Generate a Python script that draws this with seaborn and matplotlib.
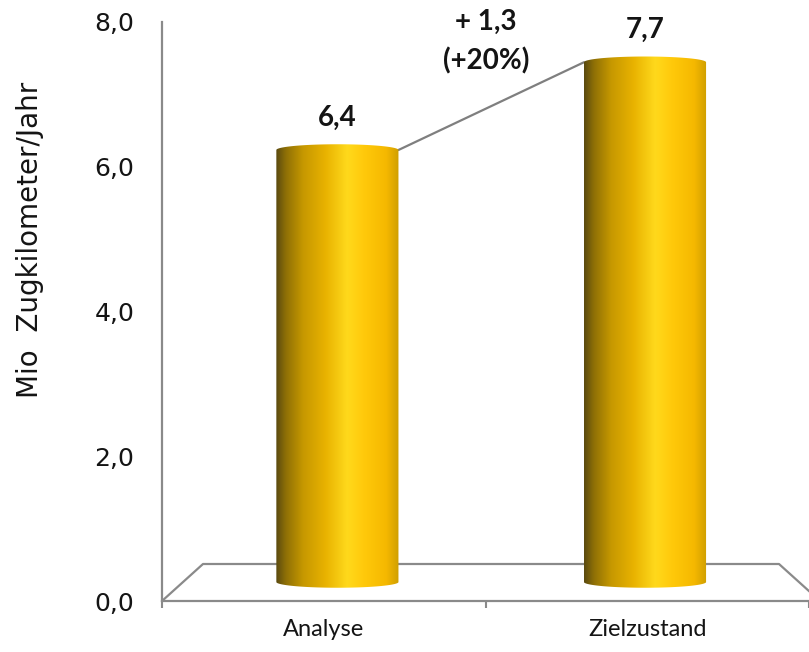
import numpy as np
import pandas as pd
import matplotlib
matplotlib.use("Agg")
import matplotlib.pyplot as plt
import seaborn as sns
from matplotlib.colors import LinearSegmentedColormap
from matplotlib.path import Path
from matplotlib.patches import PathPatch
from matplotlib.lines import Line2D

# data
categories = ["Analyse", "Zielzustand"]
values = [6.4, 7.7]
y_ticks = [0, 2, 4, 6, 8]
y_tick_labels = ["0,0", "2,0", "4,0", "6,0", "8,0"]
y_label = "Mio  Zugkilometer/Jahr"

sns.set_theme(style="white")
plt.rcParams["font.family"] = ["DejaVu Sans"]

GRAY = "#8a8a8a"
TXT = "#141414"
AXIS_FONT = ["DejaVu Sans"]
LABEL_FONT = ["Lato", "DejaVu Sans"]
W, H = 809, 652

fig = plt.figure(figsize=(W / 100, H / 100), dpi=100)

# front plane: value axis, category axis and the floor outline
ax = fig.add_axes([162 / W, 51 / H, 647 / W, 579 / H])
# back plane: the cylinders stand behind the front edge of the floor
# (67.5 px per unit, baseline 70 px above the bottom of the figure)
ax_bar = fig.add_axes([183.6 / W, (70 - 0.5 * 67.5) / H,
                       615.2 / W, 9 * 67.5 / H])

ax.set_xlim(-0.5, 1.5)
ax.set_ylim(0, 8)
ax.set_yticks(y_ticks, y_tick_labels)
ax.set_xticks([0, 1], categories)
ax.set_xticks([-0.5, 0.5, 1.5], minor=True)
ax.tick_params(axis="y", which="major", length=7, width=1.5, color=GRAY,
               direction="out", pad=13, labelsize=18, labelcolor=TXT)
ax.tick_params(axis="x", which="major", length=0, pad=13, labelsize=17,
               labelcolor=TXT)
ax.tick_params(axis="x", which="minor", length=5, width=1.5, color=GRAY,
               direction="out", bottom=True)
for lab in ax.get_yticklabels():
    lab.set_family(AXIS_FONT)
for lab in ax.get_xticklabels():
    lab.set_family(LABEL_FONT)
for side in ("top", "right"):
    ax.spines[side].set_visible(False)
for side in ("left", "bottom"):
    ax.spines[side].set_color(GRAY)
    ax.spines[side].set_linewidth(1.6)
ax.set_ylabel(y_label, fontsize=20, color=TXT, family=AXIS_FONT)
ax.yaxis.set_label_coords(-0.182, 0.623)
ax.grid(False)
ax.patch.set_alpha(0)

# floor outline in perspective
fy = 37 / 579
floor = Line2D([0, 41 / 647, 617 / 647, 658 / 647], [0, fy, fy, 0],
               transform=ax.transAxes, color=GRAY, lw=1.6, clip_on=False)
ax.add_line(floor)

# cylinders
df = pd.DataFrame({"Kategorie": categories, "Wert": values})
sns.barplot(data=df, x="Kategorie", y="Wert", ax=ax_bar, width=0.397,
            color="#f2b800", order=categories)
ax_bar.axis("off")
ax_bar.patch.set_alpha(0)

cyl_cmap = LinearSegmentedColormap.from_list(
    "cyl",
    [(0.00, "#5a4a10"), (0.08, "#8f7006"), (0.22, "#c69800"),
     (0.40, "#e8b200"), (0.58, "#ffd91c"), (0.72, "#ffc90a"),
     (0.90, "#f5b800"), (1.00, "#cf9f00")])
grad = np.linspace(0, 1, 256).reshape(1, -1)

ry = 0.085
tops = []
for p in list(ax_bar.patches):
    x0, w, h = p.get_x(), p.get_width(), p.get_height()
    p.set_visible(False)
    cx, rx = x0 + w / 2, w / 2
    a_top = np.linspace(np.pi, 0, 80)
    a_bot = np.linspace(0, -np.pi, 80)
    verts = np.concatenate([
        np.column_stack([cx + rx * np.cos(a_top), h + ry * np.sin(a_top)]),
        np.column_stack([cx + rx * np.cos(a_bot), ry * np.sin(a_bot)]),
    ])
    verts = np.vstack([verts, verts[:1]])
    clip = PathPatch(Path(verts, closed=True), transform=ax_bar.transData,
                     facecolor="none", edgecolor="none")
    ax_bar.add_patch(clip)
    im = ax_bar.imshow(grad, cmap=cyl_cmap, extent=[x0, x0 + w, -ry, h + ry],
                       aspect="auto", interpolation="bicubic", zorder=2)
    im.set_clip_path(clip)
    tops.append((x0, w, h))
    ax_bar.annotate(f"{h:.1f}".replace(".", ","), xy=(cx, h),
                    xytext=(0, 17.5), textcoords="offset points",
                    ha="center", va="baseline", fontsize=20,
                    fontweight="bold", color=TXT,
                    family=LABEL_FONT, annotation_clip=False)

ax_bar.set_xlim(-0.5, 1.5)
ax_bar.set_ylim(-0.5, 8.5)

# connector between the two cylinder tops and the change annotation
(xa, wa, ha_), (xb, wb, hb) = tops
ax_bar.plot([xa + wa, xb], [ha_, hb], color="#7f7f7f", lw=1.6, zorder=1,
            clip_on=False)
diff = values[1] - values[0]
pct = round(diff / values[0] * 100)
xm = 0.483
ax_bar.text(xm, 8.30, f"+ {diff:.1f}".replace(".", ","), ha="center",
            va="center", fontsize=20, fontweight="bold", color=TXT,
            family=LABEL_FONT, clip_on=False)
ax_bar.text(xm, 7.72, f"(+{pct}%)", ha="center", va="center", fontsize=20,
            fontweight="bold", color=TXT, family=LABEL_FONT, clip_on=False)

fig.savefig("out.png", dpi=100)
